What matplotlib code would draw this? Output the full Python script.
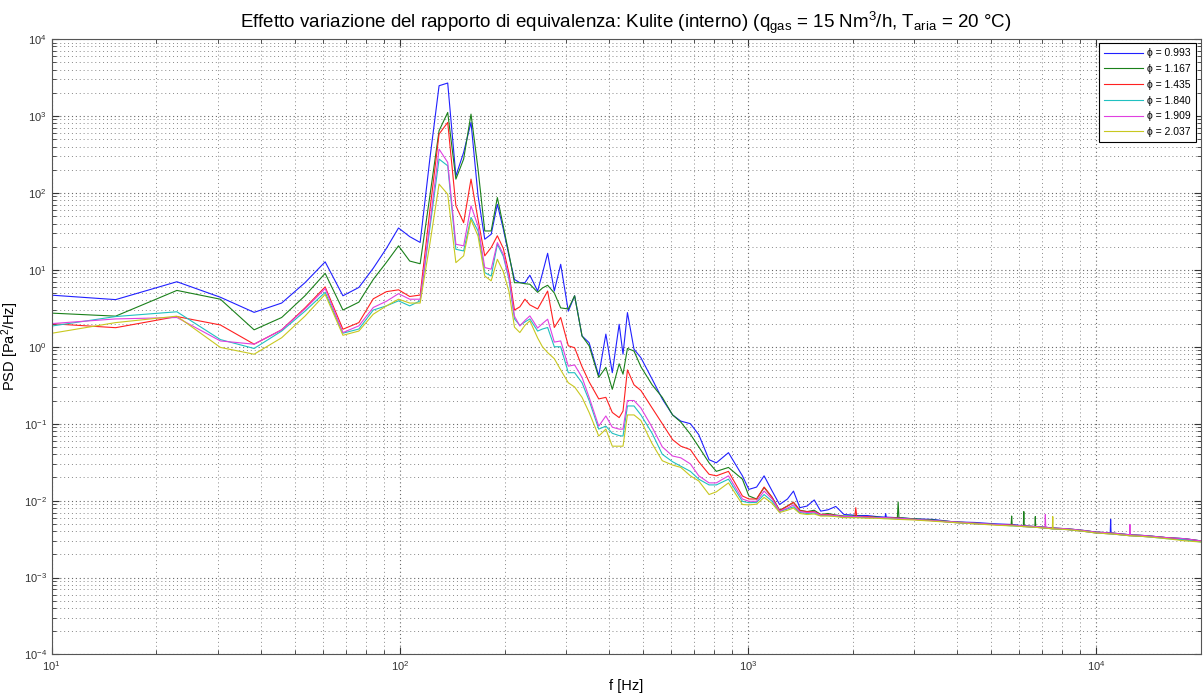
import matplotlib.pyplot as plt
from matplotlib.ticker import LogLocator, LogFormatterSciNotation, NullFormatter

plt.rcParams['font.family'] = ['Liberation Sans', 'DejaVu Sans']
plt.rcParams['mathtext.fontset'] = 'custom'
plt.rcParams['mathtext.rm'] = 'Liberation Sans'
plt.rcParams['mathtext.default'] = 'regular'

# frequenze [Hz]: risoluzione piena fino a ~200 Hz, poi punti
freq = [7.63, 15.26, 22.89, 30.52, 38.15, 45.78, 53.41, 61.04, 68.66, 76.29,
        83.92, 91.55, 99.18, 106.81, 114.44, 122.07, 129.70, 137.33, 144.96, 152.59,
        160.22, 167.85, 175.48, 183.11, 190.73, 198.36, 205.99,
        213.6, 221.3, 228.9, 236.5, 249, 257, 266, 278, 290, 305,
        318, 334, 350, 373, 391, 408, 427, 438, 451, 471,
        493, 531, 568, 608, 642, 684, 723, 774, 812, 880, 965,
        1007, 1060, 1114, 1175, 1234, 1300, 1353, 1411, 1480, 1552,
        1620, 1700, 1790, 1890, 1990, 2030, 2043, 2056, 2200, 2350,
        2480, 2490, 2500, 2690, 2704, 2718, 3000, 3400, 3900, 4500,
        5100, 5710, 5730, 5750, 6190, 6210, 6230, 6680, 6700, 6720,
        7140, 7160, 7180, 7500, 7520, 7540, 8300, 9200, 10000, 11000,
        11030, 11060, 12500, 12530, 12560, 14000, 16000, 18000, 20000]

psd_0993 = [5.1, 4.1, 7.0, 4.4, 2.8, 3.7, 6.8, 12.7, 4.6, 5.9,
            10.5, 19, 35, 27, 22.7, 280, 2470, 2680, 166, 336,
            825, 92, 25, 29, 71, 34, 15.2,
            7.5, 6.8, 6.8, 8.5, 5.3, 9.0, 16.4, 5.3, 11.8, 2.9,
            4.6, 1.38, 1.13, 0.42, 1.46, 0.46, 1.96, 0.80, 2.78, 0.93,
            0.72, 0.38, 0.21, 0.13, 0.108, 0.10, 0.072, 0.034, 0.031, 0.042, 0.021,
            0.014, 0.015, 0.021, 0.0133, 0.0089, 0.0105, 0.0133, 0.0081, 0.0085, 0.0102,
            0.0073, 0.0076, 0.0084, 0.0066, 0.0065, 0.0064, 0.0065, 0.0064, 0.0064, 0.0062,
            0.0061, 0.0068, 0.0061, 0.006, 0.0061, 0.006, 0.0058, 0.0057, 0.0053, 0.0052,
            0.005, 0.0049, 0.0048, 0.0049, 0.0047, 0.0048, 0.0047, 0.0046, 0.0046, 0.0046,
            0.0045, 0.0045, 0.0045, 0.0044, 0.0045, 0.0044, 0.0043, 0.0041, 0.0039, 0.0038,
            0.0057, 0.0038, 0.0036, 0.0037, 0.0036, 0.0035, 0.0033, 0.0032, 0.003]

psd_1167 = [2.9, 2.5, 5.4, 4.15, 1.66, 2.4, 4.6, 9.0, 3.0, 3.8,
            7.5, 12.5, 20.5, 13, 12, 92, 643, 1110, 151, 275,
            1057, 204, 32, 32, 87, 37, 16,
            6.8, 6.8, 6.6, 6.5, 5.1, 5.8, 6.3, 5.0, 3.2, 3.1,
            4.6, 1.38, 1.03, 0.40, 0.54, 0.28, 0.60, 0.44, 0.95, 0.88,
            0.55, 0.32, 0.22, 0.13, 0.105, 0.073, 0.05, 0.031, 0.024, 0.027, 0.019,
            0.0115, 0.0105, 0.0148, 0.011, 0.0075, 0.0085, 0.0095, 0.0075, 0.0072, 0.0075,
            0.0066, 0.0068, 0.0065, 0.0063, 0.0063, 0.0063, 0.0064, 0.0063, 0.0062, 0.0061,
            0.006, 0.0061, 0.006, 0.006, 0.0096, 0.006, 0.0058, 0.0056, 0.0053, 0.0051,
            0.0049, 0.0048, 0.0063, 0.0048, 0.0047, 0.0072, 0.0047, 0.0046, 0.0062, 0.0046,
            0.0045, 0.0046, 0.0045, 0.0044, 0.0044, 0.0044, 0.0043, 0.0041, 0.0039, 0.0038,
            0.0038, 0.0038, 0.0036, 0.0036, 0.0036, 0.0035, 0.0033, 0.0032, 0.003]

psd_1435 = [2.15, 1.77, 2.47, 1.92, 1.08, 1.66, 3.2, 6.0, 1.69, 2.06,
            4.2, 5.2, 5.5, 4.5, 4.7, 60, 581, 824, 68, 41,
            151, 45, 15.2, 19.5, 27.7, 19, 9,
            3.0, 3.3, 4.15, 3.5, 3.1, 4.0, 5.3, 1.78, 2.4, 1.03,
            0.97, 0.55, 0.35, 0.21, 0.22, 0.14, 0.12, 0.146, 0.5, 0.32,
            0.27, 0.16, 0.1, 0.062, 0.051, 0.046, 0.032, 0.022, 0.021, 0.024, 0.0115,
            0.0105, 0.0105, 0.015, 0.011, 0.0074, 0.0085, 0.0095, 0.0074, 0.0072, 0.0072,
            0.0066, 0.0066, 0.0064, 0.0062, 0.0062, 0.0062, 0.0081, 0.0062, 0.0062, 0.006,
            0.006, 0.006, 0.006, 0.0059, 0.0059, 0.0059, 0.0057, 0.0055, 0.0052, 0.005,
            0.0049, 0.0048, 0.0048, 0.0048, 0.0046, 0.0046, 0.0046, 0.0045, 0.0045, 0.0045,
            0.0044, 0.0044, 0.0044, 0.0043, 0.0043, 0.0043, 0.0042, 0.004, 0.0038, 0.0037,
            0.0037, 0.0037, 0.0035, 0.0035, 0.0035, 0.0034, 0.0033, 0.0031, 0.003]

psd_1840 = [1.55, 2.47, 2.85, 1.24, 0.95, 1.6, 2.9, 5.1, 1.5, 1.7,
            3.0, 3.4, 3.95, 3.4, 3.95, 35, 275, 225, 18.5, 17.6,
            48, 32, 9.2, 8.3, 21.5, 15, 7.5,
            2.3, 1.9, 2.1, 2.3, 1.6, 1.7, 1.78, 1.0, 1.0, 0.46,
            0.46, 0.34, 0.2, 0.085, 0.093, 0.075, 0.07, 0.069, 0.17, 0.17,
            0.13, 0.075, 0.04, 0.032, 0.028, 0.024, 0.019, 0.016, 0.016, 0.019, 0.0098,
            0.0094, 0.0095, 0.012, 0.0098, 0.0072, 0.0078, 0.0083, 0.007, 0.0068, 0.0069,
            0.0064, 0.0064, 0.0063, 0.0061, 0.0061, 0.0061, 0.0061, 0.0061, 0.006, 0.006,
            0.0059, 0.0059, 0.0059, 0.0058, 0.0058, 0.0058, 0.0057, 0.0055, 0.0052, 0.005,
            0.0049, 0.0047, 0.0047, 0.0047, 0.0046, 0.0046, 0.0046, 0.0045, 0.0045, 0.0045,
            0.0044, 0.0044, 0.0044, 0.0043, 0.0043, 0.0043, 0.0042, 0.004, 0.0038, 0.0037,
            0.0037, 0.0037, 0.0035, 0.0035, 0.0035, 0.0034, 0.0032, 0.0031, 0.0029]

psd_1909 = [1.83, 2.3, 2.4, 1.19, 1.08, 1.66, 3.1, 5.7, 1.53, 1.87,
            3.24, 3.9, 4.9, 4.15, 4.15, 40, 371, 249, 21.5, 20.5,
            68, 37, 10.7, 10.2, 22.6, 16, 8,
            2.5, 1.86, 2.2, 2.52, 1.75, 2.0, 2.28, 1.15, 1.19, 0.56,
            0.58, 0.4, 0.22, 0.093, 0.126, 0.09, 0.085, 0.085, 0.2, 0.2,
            0.16, 0.09, 0.05, 0.038, 0.036, 0.03, 0.021, 0.017, 0.017, 0.021, 0.0105,
            0.0098, 0.0098, 0.0133, 0.0105, 0.0073, 0.008, 0.0088, 0.0072, 0.007, 0.0071,
            0.0065, 0.0065, 0.0064, 0.0062, 0.0062, 0.0062, 0.0062, 0.0062, 0.0061, 0.006,
            0.006, 0.006, 0.006, 0.0059, 0.0059, 0.0059, 0.0057, 0.0055, 0.0053, 0.0051,
            0.0049, 0.0048, 0.0048, 0.0048, 0.0047, 0.0047, 0.0047, 0.0046, 0.0046, 0.0046,
            0.0045, 0.0066, 0.0045, 0.0044, 0.0044, 0.0044, 0.0043, 0.0041, 0.0039, 0.0038,
            0.0038, 0.0038, 0.0036, 0.0049, 0.0036, 0.0035, 0.0033, 0.0032, 0.003]

psd_2037 = [1.22, 2.06, 2.5, 0.98, 0.80, 1.31, 2.5, 4.8, 1.41, 1.6,
            2.65, 3.4, 4.15, 3.7, 3.7, 22, 130, 96, 12.4, 15.2,
            45, 27.5, 8.3, 7.2, 13.7, 9.5, 5.2,
            1.8, 1.53, 1.9, 2.17, 1.3, 1.0, 0.84, 0.7, 0.5, 0.34,
            0.3, 0.22, 0.14, 0.069, 0.085, 0.051, 0.051, 0.051, 0.13, 0.13,
            0.11, 0.055, 0.033, 0.029, 0.027, 0.021, 0.018, 0.012, 0.013, 0.017, 0.0089,
            0.0088, 0.009, 0.011, 0.0092, 0.007, 0.0075, 0.008, 0.0068, 0.0066, 0.0067,
            0.0063, 0.0063, 0.0062, 0.006, 0.006, 0.006, 0.006, 0.006, 0.0059, 0.0059,
            0.0058, 0.0058, 0.0058, 0.0057, 0.0057, 0.0057, 0.0056, 0.0054, 0.0052, 0.005,
            0.0048, 0.0047, 0.0047, 0.0047, 0.0046, 0.0046, 0.0046, 0.0045, 0.0045, 0.0045,
            0.0044, 0.0044, 0.0044, 0.0043, 0.0062, 0.0043, 0.0042, 0.004, 0.0038, 0.0037,
            0.0037, 0.0037, 0.0035, 0.0035, 0.0035, 0.0034, 0.0032, 0.003, 0.0029]

series = [psd_0993, psd_1167, psd_1435, psd_1840, psd_1909, psd_2037]
labels = ['\u03d5 = 0.993', '\u03d5 = 1.167', '\u03d5 = 1.435',
          '\u03d5 = 1.840', '\u03d5 = 1.909', '\u03d5 = 2.037']
colors = ['#2020ff', '#1a801a', '#ff2020', '#20c0c0', '#e040e0', '#c8c820']

fig = plt.figure(figsize=(12.03, 6.97), dpi=100)
ax = fig.add_axes([0.043, 0.061, 0.955, 0.883])

for y, lab, c in zip(series, labels, colors):
    ax.loglog(freq, y, color=c, lw=0.8, label=lab)

ax.set_xlim(10, 2e4)
ax.set_ylim(1e-4, 1e4)
ax.xaxis.set_major_locator(LogLocator(base=10, numticks=10))
ax.yaxis.set_major_locator(LogLocator(base=10, numticks=12))
ax.xaxis.set_minor_locator(LogLocator(base=10, subs=range(2, 10), numticks=20))
ax.yaxis.set_minor_locator(LogLocator(base=10, subs=range(2, 10), numticks=20))
ax.xaxis.set_major_formatter(LogFormatterSciNotation())
ax.yaxis.set_major_formatter(LogFormatterSciNotation())
ax.xaxis.set_minor_formatter(NullFormatter())
ax.yaxis.set_minor_formatter(NullFormatter())

ax.grid(True, which='major', linestyle=(0, (1, 2.5)), color='#666666', lw=0.8)
ax.grid(True, which='minor', linestyle=(0, (1, 3)), color='#888888', lw=0.7)
ax.tick_params(which='both', direction='in', top=True, right=True,
               labelsize=8, colors='#333333')
ax.tick_params(which='major', length=5)
ax.tick_params(which='minor', length=3)
for s in ax.spines.values():
    s.set_color('#555555')

ax.set_title('Effetto variazione del rapporto di equivalenza: Kulite (interno) '
             '(q$_{gas}$ = 15 Nm$^{3}$/h, T$_{aria}$ = 20 \u00b0C)',
             fontsize=13.5, pad=8)
ax.set_xlabel('f [Hz]', fontsize=10.5, labelpad=4)
ax.set_ylabel('PSD [Pa$^2$/Hz]', fontsize=10.5, labelpad=2)

leg = ax.legend(loc='upper right', fontsize=7.5, fancybox=False, framealpha=1,
                edgecolor='black', handlelength=3.8, borderaxespad=0.4,
                labelspacing=0.55, borderpad=0.5, handletextpad=0.4)
leg.get_frame().set_linewidth(0.8)

fig.savefig('out.png', dpi=100)
